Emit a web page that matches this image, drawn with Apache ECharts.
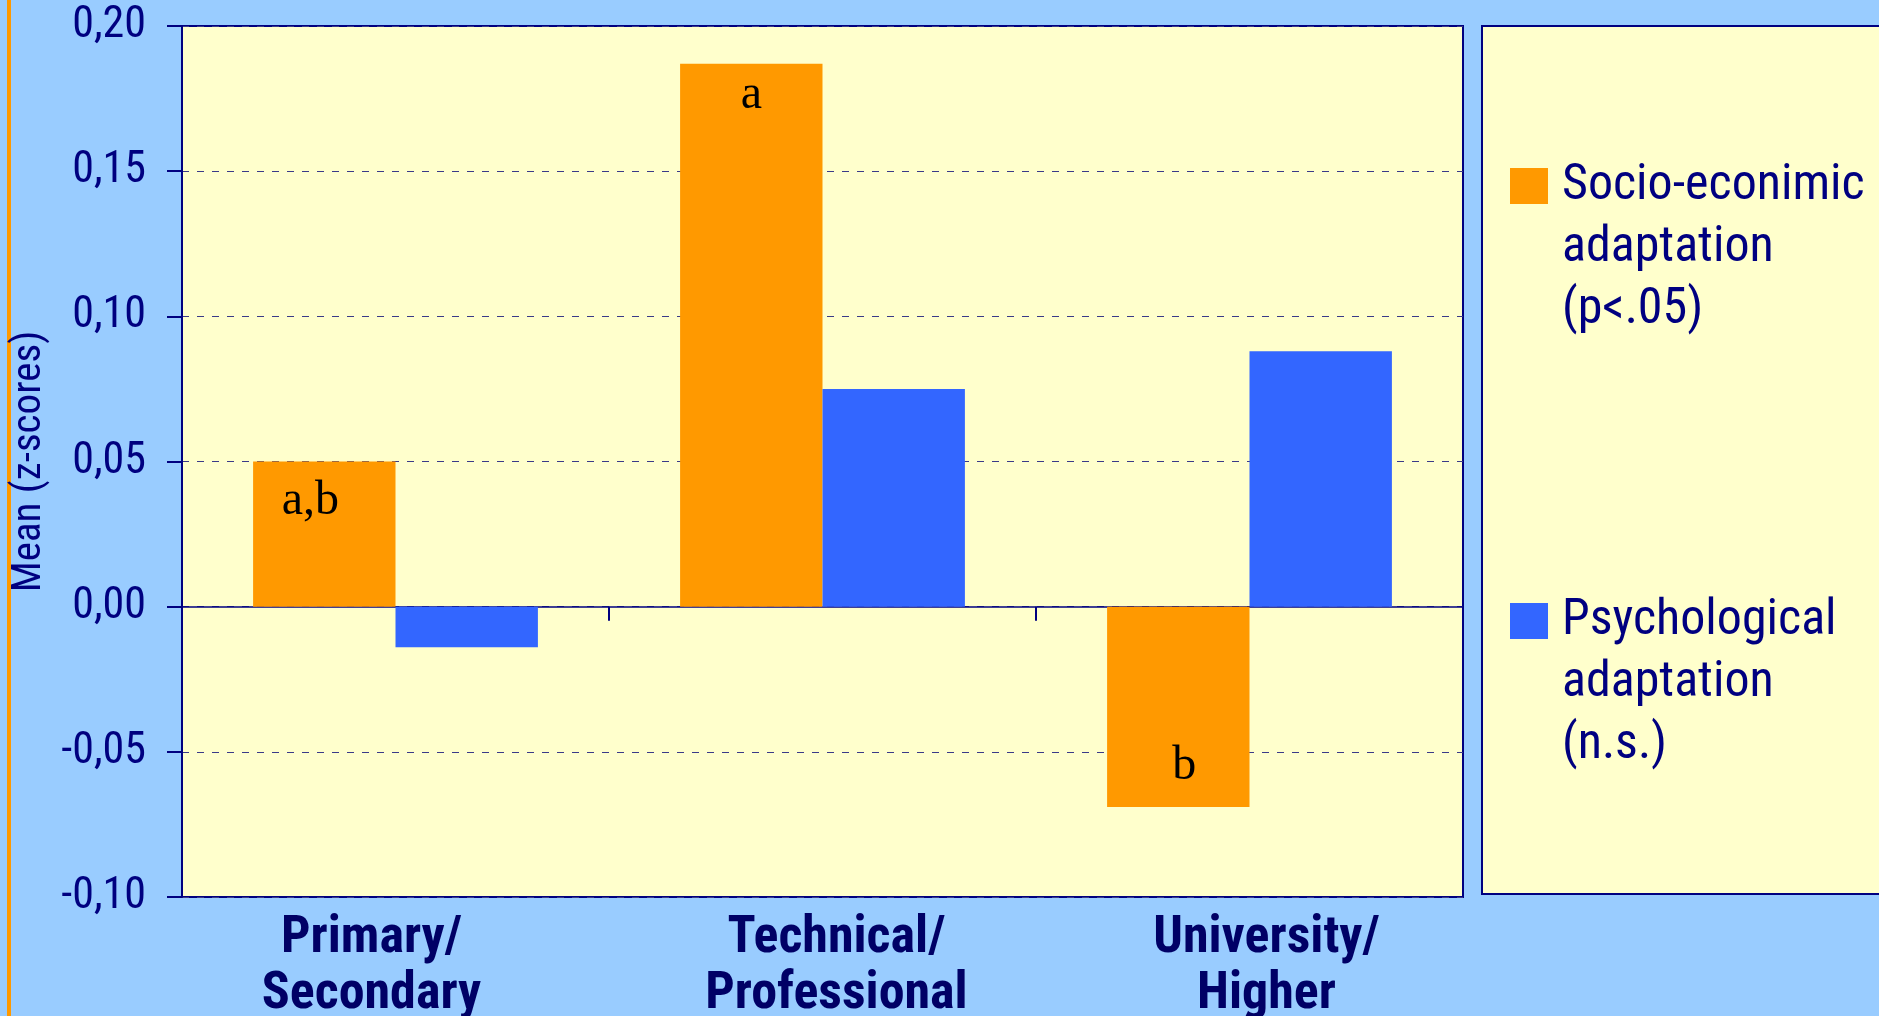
<!DOCTYPE html>
<html>
<head>
<meta charset="utf-8">
<script src="https://cdn.jsdelivr.net/npm/echarts@6/dist/echarts.min.js"></script>
<style>
  html, body { margin: 0; padding: 0; background: #99CCFF; }
  #chart { width: 1879px; height: 1016px; }
</style>
</head>
<body>
<div id="chart"></div>
<script>
// data
var categories = ['Primary/\nSecondary', 'Technical/\nProfessional', 'University/\nHigher'];
var seriesNames = ['Socio-econimic\nadaptation\n(p<.05)', 'Psychological\nadaptation\n(n.s.)'];
var socioValues = [0.050, 0.187, -0.069];
var psychValues = [-0.014, 0.075, 0.088];
var socioLetters = ['a,b', 'a', 'b'];

var navy = '#000080';
var narrow = '"Roboto Condensed", "Liberation Sans Narrow", "Arial Narrow", sans-serif';

// category labels and bar letters in the original sit a little off centre
var labelShift = [-24, 14, 17];
var letterNudge = [[-14, 8], [0, 0], [6, -3]];

function eachOf(arr, fn) {
    for (var i = 0; i < arr.length; i++) fn(arr[i], i);
}

var xData = [];
eachOf(categories, function (c, i) {
    var s = labelShift[i];
    xData.push({
        value: c,
        textStyle: { padding: s < 0 ? [0, -2 * s, 0, 0] : [0, 0, 0, 2 * s] }
    });
});

// letters inside the orange bars
var socioData = [];
eachOf(socioValues, function (v, i) {
    socioData.push({
        value: v,
        label: {
            show: true,
            formatter: socioLetters[i],
            position: v < 0 ? 'insideBottom' : 'insideTop',
            distance: v < 0 ? 14 : 8,
            offset: letterNudge[i]
        }
    });
});

var option = {
    backgroundColor: '#99CCFF',
    animation: false,
    graphic: [
        {
            type: 'rect',
            shape: { x: 7, y: 0, width: 4, height: 1016 },
            style: { fill: '#FF9900' }
        },
        {
            type: 'rect',
            shape: { x: 1482, y: 26, width: 420, height: 868 },
            style: { fill: '#FFFFCC', stroke: navy, lineWidth: 2 }
        }
    ],
    grid: {
        left: 182,
        right: 416,
        top: 26,
        bottom: 119,
        outerBoundsMode: 'none',
        containLabel: false,
        show: true,
        backgroundColor: '#FFFFCC',
        borderColor: navy,
        borderWidth: 2
    },
    legend: {
        orient: 'vertical',
        left: 1510,
        top: 37,
        padding: 0,
        itemWidth: 38,
        itemHeight: 36,
        itemGap: 137,
        icon: 'rect',
        data: seriesNames,
        // two empty lines on top keep the square beside the first line
        formatter: function (name) {
            var lines = ['', ''].concat(name.split('\n'));
            return lines.map(function (l) { return '{t|' + (l || ' ') + '}'; }).join('\n');
        },
        textStyle: {
            rich: {
                t: {
                    fontFamily: narrow,
                    fontSize: 50,
                    lineHeight: 62,
                    color: navy,
                    padding: [0, 0, 0, 9]
                }
            }
        }
    },
    xAxis: [
        {
            type: 'category',
            data: xData,
            position: 'bottom',
            axisLine: { show: false, onZero: false },
            axisTick: { show: false },
            axisLabel: {
                fontFamily: narrow,
                fontWeight: 'bold',
                fontSize: 52,
                lineHeight: 56,
                color: '#000066',
                margin: 14
            }
        },
        {
            type: 'category',
            data: categories,
            position: 'bottom',
            axisLine: { show: true, onZero: true, lineStyle: { color: navy, width: 1.5 } },
            axisTick: { show: true, alignWithLabel: false, length: 14, lineStyle: { color: navy, width: 2 } },
            axisLabel: { show: false }
        }
    ],
    yAxis: {
        type: 'value',
        min: -0.1,
        max: 0.2,
        interval: 0.05,
        name: 'Mean (z-scores)',
        nameLocation: 'middle',
        nameRotate: 90,
        nameGap: 132,
        nameTextStyle: { fontFamily: narrow, fontSize: 41, color: navy },
        axisLine: { show: true, lineStyle: { color: navy, width: 2 } },
        axisTick: { show: true, length: 15, lineStyle: { color: navy, width: 2 } },
        axisLabel: {
            fontFamily: narrow,
            fontSize: 44,
            color: navy,
            margin: 36,
            formatter: function (v) {
                return v.toFixed(2).replace('.', ',');
            }
        },
        splitLine: {
            show: true,
            lineStyle: { color: '#3a3a88', width: 1, type: [7, 8] }
        }
    },
    series: [
        {
            name: seriesNames[0],
            type: 'bar',
            xAxisIndex: 0,
            data: socioData,
            barGap: '0%',
            barCategoryGap: '33.3%',
            itemStyle: { color: '#FF9900' },
            label: {
                color: '#000000',
                fontFamily: '"Liberation Serif", "Times New Roman", serif',
                fontSize: 48
            }
        },
        {
            name: seriesNames[1],
            type: 'bar',
            xAxisIndex: 0,
            data: psychValues,
            barGap: '0%',
            barCategoryGap: '33.3%',
            itemStyle: { color: '#3366FF' }
        }
    ]
};

var chart = echarts.init(document.getElementById('chart'));
chart.setOption(option);
</script>
</body>
</html>
